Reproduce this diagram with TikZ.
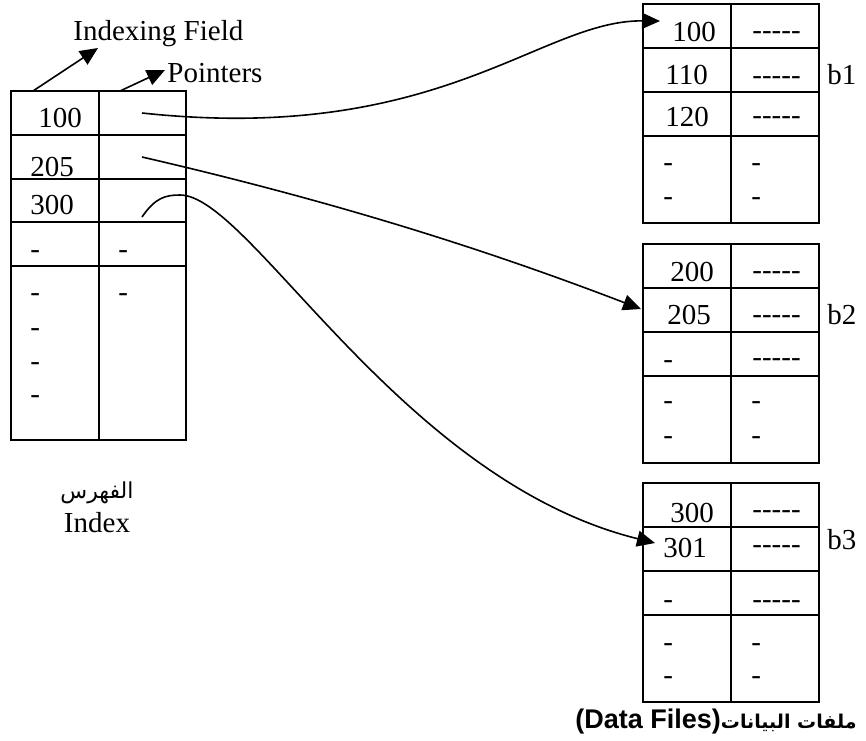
\documentclass[tikz,border=0pt]{standalone}
\usepackage{fontspec}
\setmainfont{Liberation Serif}[Ligatures=TeXOff]
\newfontfamily\arabicfont[Script=Arabic]{DejaVu Sans}
\newfontfamily\headfont{Liberation Sans}
\TeXXeTstate=1
\usetikzlibrary{arrows.meta}

\begin{document}
\begin{tikzpicture}[x=0.5pt, y=-0.5pt,
    grid/.style={line width=1pt},
    txt/.style={anchor=base west, inner sep=0pt, font=\fontsize{14.5}{16}\selectfont},
    undertxt/.style={anchor=base, inner sep=0pt, font=\fontsize{14.5}{16}\selectfont},
    link/.style={line width=0.8pt, -{Triangle[length=9pt,width=8pt]}}]
  \useasboundingbox (0,0) rectangle (866,740);

  % index table
  \draw[grid] (11,91) rectangle (186,440);
  \draw[grid] (99,91) -- (99,440);
  \foreach \y in {135,179,222,266}
    \draw[grid] (11,\y) -- (186,\y);
  \node[txt] (k100) at (38,127) {100};
  \node[txt] (k205) at (30,176) {205};
  \node[txt] (k300) at (30,214) {300};
  \foreach \y [count=\i] in {258,301,336,370,403}
    \node[txt] (kd\i) at (30,\y) {-};
  \node[txt] (pd1) at (118,258) {-};
  \node[txt] (pd2) at (118,301) {-};

  % headings over the index
  \node[txt] (field) at (73,40) {Indexing Field};
  \node[txt] (ptrs) at (167,82) {Pointers};
  \coordinate (fieldfoot) at (33,91);
  \coordinate (fieldtip) at (98,48);
  \coordinate (ptrfoot) at (120,91);
  \coordinate (ptrtip) at (165,70);
  \draw[link] (fieldfoot) -- (fieldtip);
  \draw[link] (ptrfoot) -- (ptrtip);

  % name under the index
  \node[undertxt, font=\fontsize{11}{12}\selectfont] (idxar) at (97,498) {\arabicfont\beginR الفهرس\endR};
  \node[undertxt] (idx) at (97,532) {Index};

  % data blocks b1, b2, b3
  \foreach \t in {4,244,483} {
    \draw[grid] (643,\t) rectangle (819,{\t+219});
    \draw[grid] (731,\t) -- (731,{\t+219});
    \foreach \d in {44,88,132}
      \draw[grid] (643,{\t+\d}) -- (819,{\t+\d});
  }
  \node[txt] (a100) at (672,41) {100};
  \node[txt] (a110) at (665,84) {110};
  \node[txt] (a120) at (665,126) {120};
  \node[txt] (a200) at (670,281) {200};
  \node[txt] (a205) at (667,324) {205};
  \node[txt] (a300) at (670,522) {300};
  \node[txt] (a301) at (663,557) {301};
  \node[txt] (ka7) at (663,368) {-};
  \node[txt] (ka8) at (663,608) {-};
  \foreach \y [count=\i] in {39,84,124,279,323,366,518,553,608}
    \node[txt] (rec\i) at (752,\y) {-----};
  \foreach \y [count=\i] in {171,205,409,444,651,684} {
    \node[txt] (ka\i) at (663,\y) {-};
    \node[txt] (pa\i) at (751,\y) {-};
  }
  \node[txt] (b1) at (827,84) {b1};
  \node[txt] (b2) at (827,324) {b2};
  \node[txt] (b3) at (827,549) {b3};

  \node[anchor=base, inner sep=0pt, font=\headfont\bfseries\fontsize{13.5}{16}\selectfont] (files)
    at (716,728) {(Data Files){\arabicfont\bfseries\fontsize{9.5}{11}\selectfont\beginR ملفات البيانات\endR}};

  % pointers from the index into the blocks
  \coordinate (p1) at (142,113);
  \coordinate (p2) at (142,157);
  \coordinate (p3) at (142,217);
  \coordinate (in1) at (660,21);
  \coordinate (in2) at (641,309);
  \coordinate (in3) at (655,543);
  \draw[link] (p1) .. controls (440,145) and (540,20) .. (in1);
  \draw[link] (p2) .. controls (350,205) and (500,255) .. (in2);
  \draw[link] (p3) .. controls (155,198) and (165,195) .. (180,195)
    .. controls (250,195) and (400,480) .. (in3);
\end{tikzpicture}
\end{document}
